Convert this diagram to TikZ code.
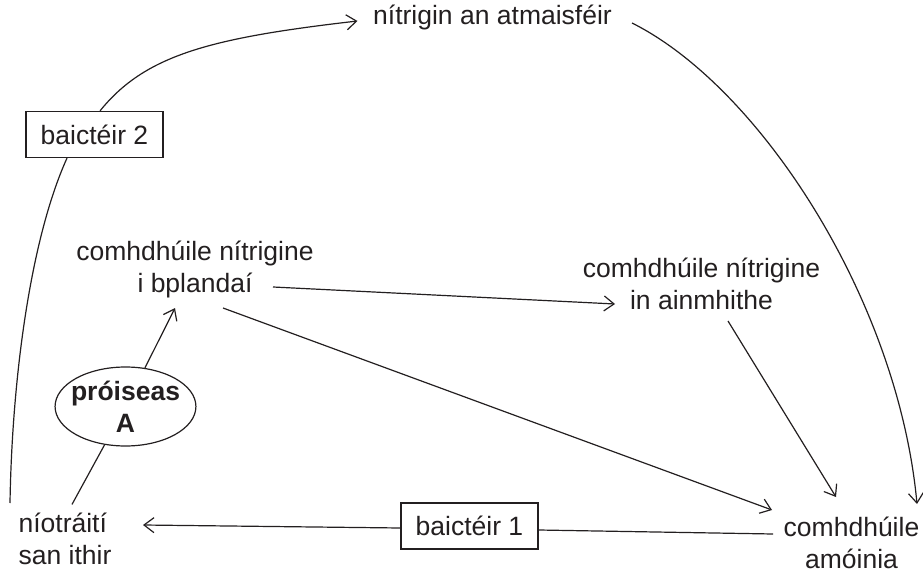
\documentclass[tikz,border=0pt]{standalone}
\usepackage{fontspec}
\setmainfont{Liberation Sans}
\usetikzlibrary{arrows.meta,calc,shapes.geometric}
\definecolor{ink}{RGB}{35,31,32}
\begin{document}
\begin{tikzpicture}[x=1pt,y=-1pt,
  every node/.style={text=ink},
  txt/.style={inner sep=0pt, align=center, font=\fontsize{26.5}{32}\selectfont},
  boxnode/.style={txt, draw=ink, line width=1.2pt, minimum width=137pt, minimum height=46pt},
  ellnode/.style={txt, ellipse, draw=ink, line width=1.2pt, inner xsep=-4.7pt, inner ysep=0pt, minimum height=79pt, font=\fontsize{26.5}{32}\selectfont\bfseries},
  conn/.style={draw=ink, line width=1.2pt},
  arr/.style={conn, -{Straight Barb[length=10pt,width=15pt,line width=1.2pt]}}]
\useasboundingbox (0,0) rectangle (923,577);

\node[txt, anchor=base] (atm) at (492.5,25) {nítrigin an atmaisféir};
\node[txt] (plants) at (195,269) {comhdhúile nítrigine\\i bplandaí};
\node[txt] (animals) at (701.5,284) {comhdhúile nítrigine\\in ainmhithe};
\node[txt] (amm) at (851.5,543) {comhdhúile\\amóinia};
\node[txt, align=left] (nit) at (65,539) {níotráití\\san ithir};
\node[boxnode] (b1) at (469.5,526) {baictéir 1};
\node[boxnode] (b2) at (94.5,134.5) {baictéir 2};
\node[ellnode] (ell) at (125.5,406.5) {próiseas\\A};

% nitrates -> process A -> plants
\draw[conn] ($(nit.north)+(7,-8.5)$) -- (ell);
\draw[arr] (ell) -- ($(plants.south)+(-20,10.4)$);

% plants -> animals
\draw[arr] ($(plants.center)+(78,18)$) -- ($(animals.center)+(-86.5,20)$);

% plants -> ammonia
\draw[arr] ($(plants.center)+(28,39)$) -- ($(amm.center)+(-79.5,-33)$);

% animals -> ammonia
\draw[arr] ($(animals.center)+(26.5,37)$) -- ($(amm.center)+(-15.5,-46)$);

% atmosphere -> ammonia
\draw[arr] ($(atm.base east)+(20,-2)$) .. controls (760,87) and (898,300) .. ($(amm.center)+(65.5,-39)$);

% ammonia -> nitrates via bacteria 1
\draw[conn] ($(amm.center)+(-78.5,-9)$) -- ($(b1.east)+(0,4)$);
\draw[arr] ($(b1.west)+(0,2)$) -- ($(nit.center)+(78,-14)$);

% nitrates -> atmosphere via bacteria 2
\draw[conn] ($(nit.center)+(-55,-36)$) .. controls (12,380) and (30,240) .. ($(b2.south)+(-27.5,0)$);
\draw[arr] ($(b2.north)+(5.5,0)$) .. controls (145,55) and (210,38) .. ($(atm.base west)+(-15.5,-4)$);
\end{tikzpicture}
\end{document}
